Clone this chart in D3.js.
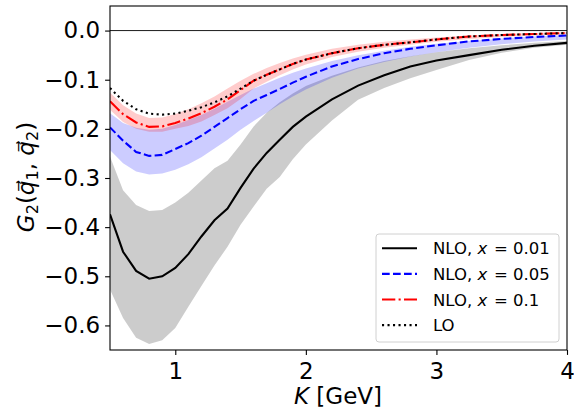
<!DOCTYPE html>
<html><head><meta charset="utf-8">
<script src="https://cdn.jsdelivr.net/npm/d3@7"></script>
<style>
body{margin:0;background:#fff;}
text{font-family:"DejaVu Sans",sans-serif;fill:#000;}
</style></head>
<body><svg id="c" width="574" height="411"></svg>
<script>
const K = [0.5,0.6,0.7,0.8,0.9,1.0,1.1,1.2,1.3,1.4,1.5,1.6,1.7,1.8,1.9,2.0,2.2,2.4,2.6,2.8,3.0,3.25,3.5,3.75,4.0];
const nlo001 = [-0.374,-0.450,-0.489,-0.505,-0.500,-0.483,-0.455,-0.419,-0.386,-0.362,-0.320,-0.281,-0.249,-0.222,-0.196,-0.175,-0.140,-0.112,-0.091,-0.073,-0.061,-0.050,-0.039,-0.031,-0.025];
const nlo001Hi = [-0.256,-0.325,-0.355,-0.367,-0.365,-0.350,-0.330,-0.305,-0.280,-0.265,-0.232,-0.195,-0.167,-0.146,-0.128,-0.113,-0.092,-0.075,-0.062,-0.052,-0.044,-0.036,-0.030,-0.025,-0.021];
const nlo001Lo = [-0.527,-0.585,-0.625,-0.638,-0.630,-0.605,-0.562,-0.520,-0.478,-0.440,-0.395,-0.358,-0.322,-0.298,-0.262,-0.232,-0.183,-0.141,-0.117,-0.097,-0.080,-0.060,-0.045,-0.035,-0.029];
const nlo005 = [-0.197,-0.224,-0.247,-0.255,-0.253,-0.241,-0.229,-0.214,-0.196,-0.178,-0.160,-0.143,-0.131,-0.119,-0.106,-0.094,-0.073,-0.058,-0.046,-0.037,-0.030,-0.022,-0.017,-0.013,-0.010];
const nlo005Hi = [-0.168,-0.188,-0.198,-0.202,-0.200,-0.192,-0.182,-0.172,-0.159,-0.145,-0.131,-0.118,-0.107,-0.096,-0.086,-0.077,-0.062,-0.050,-0.041,-0.033,-0.027,-0.021,-0.016,-0.012,-0.009];
const nlo005Lo = [-0.243,-0.270,-0.287,-0.293,-0.291,-0.283,-0.272,-0.258,-0.240,-0.222,-0.202,-0.184,-0.167,-0.150,-0.134,-0.120,-0.096,-0.077,-0.064,-0.053,-0.044,-0.035,-0.028,-0.022,-0.018];
const nlo01 = [-0.144,-0.170,-0.187,-0.196,-0.195,-0.188,-0.179,-0.168,-0.155,-0.140,-0.121,-0.102,-0.090,-0.079,-0.068,-0.059,-0.046,-0.036,-0.029,-0.024,-0.018,-0.012,-0.009,-0.007,-0.005];
const nlo01Hi = [-0.126,-0.152,-0.169,-0.178,-0.177,-0.170,-0.160,-0.148,-0.134,-0.118,-0.102,-0.088,-0.076,-0.066,-0.057,-0.049,-0.037,-0.029,-0.023,-0.018,-0.014,-0.010,-0.007,-0.005,-0.003];
const nlo01Lo = [-0.161,-0.186,-0.200,-0.206,-0.206,-0.200,-0.194,-0.185,-0.172,-0.158,-0.139,-0.118,-0.104,-0.091,-0.079,-0.069,-0.054,-0.043,-0.035,-0.029,-0.023,-0.017,-0.013,-0.010,-0.007];
const lo = [-0.117,-0.143,-0.160,-0.169,-0.171,-0.169,-0.163,-0.156,-0.146,-0.134,-0.118,-0.102,-0.090,-0.079,-0.068,-0.059,-0.046,-0.036,-0.029,-0.024,-0.018,-0.012,-0.009,-0.007,-0.005];
const xTicks = [1,2,3,4];
const yTicks = [0.0,-0.1,-0.2,-0.3,-0.4,-0.5,-0.6];

const svg = d3.select("#c");
const L=110, R=567, T=6, B=350;
const FS = 23;
const x = d3.scaleLinear().domain([0.5,4]).range([L,R]);
const y = d3.scaleLinear().domain([-0.65,0.05]).range([B,T]);

const g = svg.append("g");
g.append("defs").append("clipPath").attr("id","clip").append("rect")
  .attr("x",L).attr("y",T).attr("width",R-L).attr("height",B-T);
const plot = g.append("g").attr("clip-path","url(#clip)");

function band(hi,lo,color){
  const a = d3.area().x((d,i)=>x(K[i])).y0((d,i)=>y(lo[i])).y1((d,i)=>y(hi[i]));
  plot.append("path").datum(hi).attr("d",a).attr("fill",color).attr("fill-opacity",0.2).attr("stroke","none");
}
band(nlo001Hi,nlo001Lo,"#000");
band(nlo005Hi,nlo005Lo,"#0000ff");
band(nlo01Hi,nlo01Lo,"#ff0000");

plot.append("line").attr("x1",L).attr("x2",R).attr("y1",y(0)).attr("y2",y(0))
  .attr("stroke","#000").attr("stroke-width",0.9);

const lineGen = d3.line().x((d,i)=>x(K[i])).y(d=>y(d));
const series = [
  {v:nlo001,c:"#000",dash:null},
  {v:nlo005,c:"#0000ff",dash:"7.7,3.3"},
  {v:nlo01,c:"#ff0000",dash:"13.3,3.3,2.1,3.3"},
  {v:lo,c:"#000",dash:"2.1,3.4"}
];
series.forEach(s=>{
  plot.append("path").datum(s.v).attr("d",lineGen).attr("fill","none")
   .attr("stroke",s.c).attr("stroke-width",2.08).attr("stroke-dasharray",s.dash);
});

g.append("rect").attr("x",L).attr("y",T).attr("width",R-L).attr("height",B-T)
 .attr("fill","none").attr("stroke","#000").attr("stroke-width",1.1);

const xa = g.append("g").attr("transform",`translate(0,${B})`)
  .call(d3.axisBottom(x).tickValues(xTicks).tickFormat(d3.format("d")).tickSize(4.9).tickPadding(5));
const ya = g.append("g").attr("transform",`translate(${L},0)`)
  .call(d3.axisLeft(y).tickValues(yTicks).tickFormat(d=>d3.format(".1f")(d).replace("-","\u2212")).tickSize(4.9).tickPadding(5));
[xa,ya].forEach(a=>{
  a.select(".domain").remove();
  a.selectAll("line").attr("stroke","#000").attr("stroke-width",1.1);
  a.selectAll("text").attr("font-size",FS).attr("font-family","DejaVu Sans").attr("fill","#000");
});
xa.selectAll("text").attr("y",28.5).attr("dy",0);

const xl = svg.append("text").attr("x",338).attr("y",404).attr("text-anchor","middle").attr("font-size",FS);
xl.append("tspan").attr("font-style","italic").text("K");
xl.append("tspan").text(" [GeV]");

const yl = svg.append("text").attr("transform","translate(34,177) rotate(-90)").attr("text-anchor","middle").attr("font-size",FS);
yl.append("tspan").attr("font-style","italic").text("G");
yl.append("tspan").attr("font-size",FS*0.7).attr("dy",4).text("2");
yl.append("tspan").attr("dy",-4).text("(");
yl.append("tspan").attr("font-style","italic").text("q\u20D7");
yl.append("tspan").attr("font-size",FS*0.7).attr("dy",4).text("1");
yl.append("tspan").attr("dy",-4).text(", ");
yl.append("tspan").attr("font-style","italic").text("q\u20D7");
yl.append("tspan").attr("font-size",FS*0.7).attr("dy",4).text("2");
yl.append("tspan").attr("dy",-4).text(")");

const labels = [["NLO, ","x"," = 0.01"],["NLO, ","x"," = 0.05"],["NLO, ","x"," = 0.1"],["LO"]];
const lg = svg.append("g");
lg.append("rect").attr("x",376).attr("y",234).attr("width",183).attr("height",108).attr("rx",3)
  .attr("fill","#fff").attr("fill-opacity",0.8).attr("stroke","#d0d0d0").attr("stroke-width",1);
labels.forEach((lab,i)=>{
  const cy = 248.3 + i*25.6;
  const s = series[i];
  lg.append("line").attr("x1",382).attr("x2",417).attr("y1",cy).attr("y2",cy)
    .attr("stroke",s.c).attr("stroke-width",2.08).attr("stroke-dasharray",s.dash);
  const t = lg.append("text").attr("x",433).attr("y",cy+6).attr("font-size",16.5);
  t.append("tspan").text(lab[0]);
  if(lab.length>1){
    t.append("tspan").attr("font-style","italic").text(lab[1]);
    t.append("tspan").attr("dx",1.5).text(lab[2]);
  }
});
</script></body></html>
